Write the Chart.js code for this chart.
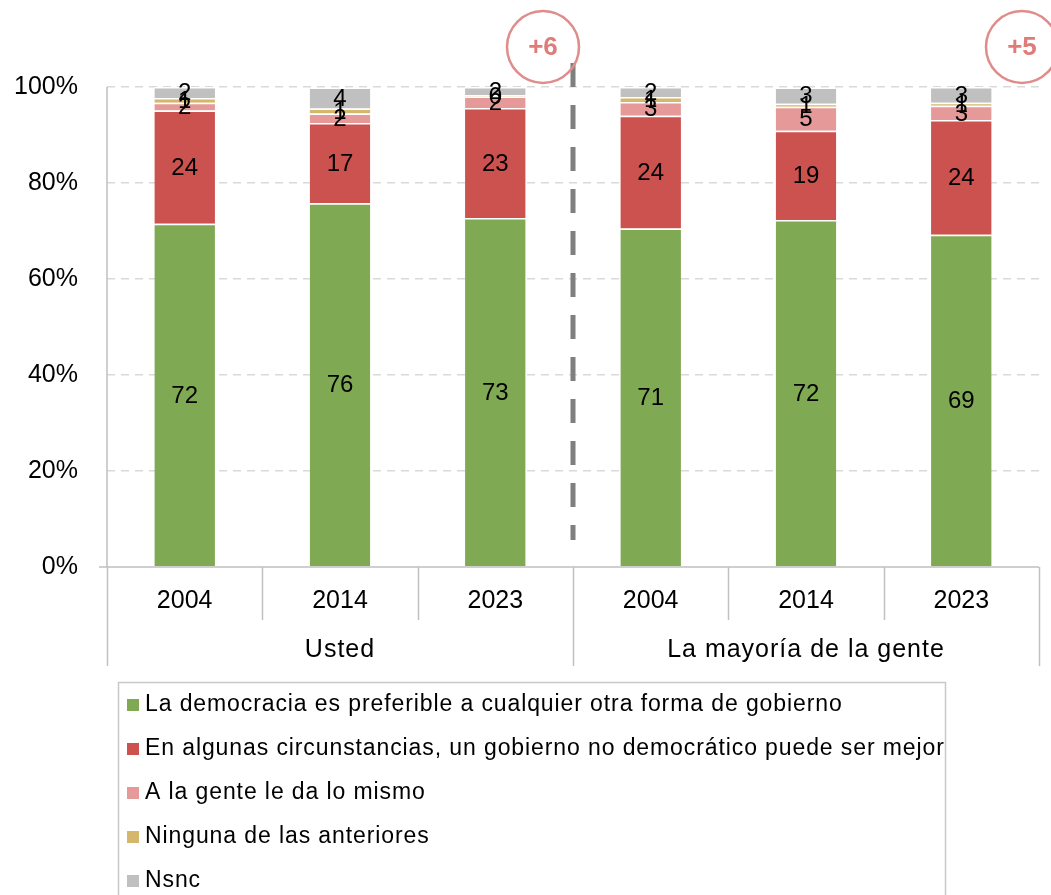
<!DOCTYPE html>
<html>
<head>
<meta charset="utf-8">
<style>
html,body{margin:0;padding:0;background:#fff;}
#wrap{width:1051px;height:895px;position:relative;}
</style>
<script src="https://cdn.jsdelivr.net/npm/chart.js@4/dist/chart.umd.min.js"></script>
</head>
<body>
<div id="wrap"><canvas id="c"></canvas></div>
<script>
// ---- data ----
const categories = ['2004', '2014', '2023', '2004', '2014', '2023'];
const groups = ['Usted', 'La mayoría de la gente'];
const groupSizes = [3, 3];
const seriesNames = [
  'La democracia es preferible a cualquier otra forma de gobierno',
  'En algunas circunstancias, un gobierno no democrático puede ser mejor',
  'A la gente le da lo mismo',
  'Ninguna de las anteriores',
  'Nsnc'
];
const democracia = [71.5, 75.8, 72.7, 70.5, 72.3, 69.2];
const noDemocratico = [23.6, 16.7, 22.9, 23.5, 18.6, 23.9];
const loMismo = [1.6, 2.0, 2.4, 2.9, 5.0, 3.0];
const ninguna = [1.0, 1.0, 0.3, 1.0, 0.6, 0.6];
const nsnc = [2.3, 4.4, 1.7, 2.1, 3.4, 3.3];
const changeLabels = ['+6', '+5'];
const yTicks = [0, 20, 40, 60, 80, 100];

const seriesValues = [democracia, noDemocratico, loMismo, ninguna, nsnc];
const colors = ['#80a954', '#cc524f', '#e59a99', '#d4b76a', '#c0c0c0'];
const FONT = '"Liberation Sans", Arial, Helvetica, sans-serif';

const extras = {
  id: 'extras',
  afterDatasetsDraw(chart) {
    const ctx = chart.ctx;
    ctx.save();
    ctx.fillStyle = '#000';
    ctx.font = '24px ' + FONT;
    ctx.textAlign = 'center';
    ctx.textBaseline = 'middle';
    chart.data.datasets.forEach((ds, i) => {
      const meta = chart.getDatasetMeta(i);
      meta.data.forEach((bar, j) => {
        const p = bar.getProps(['x', 'y', 'base'], true);
        ctx.fillText(String(Math.round(ds.data[j])), p.x, (p.y + p.base) / 2 + 1);
      });
    });
    ctx.restore();
  },
  afterDraw(chart) {
    const ctx = chart.ctx;
    const ca = chart.chartArea;
    const xs = chart.scales.x;
    const n = categories.length;
    const step = (xs.getPixelForValue(1) - xs.getPixelForValue(0));
    const edge = i => xs.getPixelForValue(i) - step / 2; // left boundary of category i
    ctx.save();
    // axis lines
    ctx.strokeStyle = '#c0c0c0';
    ctx.lineWidth = 1.5;
    ctx.beginPath();
    ctx.moveTo(ca.left - 8, ca.bottom); ctx.lineTo(ca.right, ca.bottom);
    ctx.moveTo(ca.left, ca.top); ctx.lineTo(ca.left, ca.bottom);
    ctx.stroke();
    // category separators
    let acc = 0;
    const groupEdges = [0];
    groupSizes.forEach(s => { acc += s; groupEdges.push(acc); });
    for (let i = 0; i <= n; i++) {
      const x = Math.round(edge(i)) + 0.5;
      const isGroup = groupEdges.includes(i);
      ctx.beginPath();
      ctx.moveTo(x, ca.bottom);
      ctx.lineTo(x, ca.bottom + (isGroup ? 99 : 53));
      ctx.stroke();
    }
    // year labels
    ctx.fillStyle = '#000';
    ctx.font = '25px ' + FONT;
    ctx.textAlign = 'center';
    ctx.textBaseline = 'middle';
    categories.forEach((c, i) => ctx.fillText(c, xs.getPixelForValue(i), ca.bottom + 34));
    // group labels
    ctx.letterSpacing = '1px';
    groups.forEach((g, k) => {
      const x = (edge(groupEdges[k]) + edge(groupEdges[k + 1])) / 2;
      ctx.fillText(g, x, ca.bottom + 83);
    });
    ctx.letterSpacing = '0px';
    // dashed divider
    const xd = edge(groupEdges[1]);
    ctx.strokeStyle = '#7f7f7f';
    ctx.lineWidth = 5;
    ctx.setLineDash([24, 18]);
    ctx.beginPath();
    ctx.moveTo(xd, ca.top - 24);
    ctx.lineTo(xd, ca.bottom - 27);
    ctx.stroke();
    ctx.setLineDash([]);
    // change circles
    const circ = [[edge(groupEdges[1]) - 30, 47], [ca.right - 17, 47]];
    circ.forEach((c, k) => {
      ctx.strokeStyle = '#e08c8a';
      ctx.lineWidth = 2.5;
      ctx.beginPath();
      ctx.arc(c[0], c[1], 36, 0, Math.PI * 2);
      ctx.stroke();
      ctx.fillStyle = '#df7b79';
      ctx.font = 'bold 26px ' + FONT;
      ctx.fillText(changeLabels[k], c[0], c[1] + 1);
    });
    // legend
    ctx.strokeStyle = '#c8c8c8';
    ctx.lineWidth = 1.5;
    ctx.strokeRect(118.5, 682.5, 827, 260);
    ctx.textAlign = 'left';
    ctx.font = '23px ' + FONT;
    ctx.letterSpacing = '0.9px';
    seriesNames.forEach((s, i) => {
      const y = 705 + i * 44;
      ctx.fillStyle = colors[i];
      ctx.fillRect(127, y - 6, 12, 12);
      ctx.fillStyle = '#000';
      ctx.fillText(s, 145, y);
    });
    ctx.letterSpacing = '0px';
    ctx.restore();
  }
};

new Chart(document.getElementById('c'), {
  type: 'bar',
  data: {
    labels: categories,
    datasets: seriesValues.map((v, i) => ({
      label: seriesNames[i],
      data: v,
      backgroundColor: colors[i],
      borderColor: '#ffffff',
      borderWidth: {top: 1.5, bottom: 0, left: 0, right: 0},
      borderSkipped: false,
      barPercentage: 0.39,
      categoryPercentage: 1.0
    }))
  },
  options: {
    responsive: true,
    maintainAspectRatio: false,
    animation: false,
    layout: {padding: {top: 87, bottom: 328, left: 0, right: 12}},
    plugins: {legend: {display: false}, tooltip: {enabled: false}},
    scales: {
      x: {stacked: true, display: false, offset: true},
      y: {
        stacked: true,
        min: 0, max: 100,
        afterFit: s => { s.width = 107; },
        afterBuildTicks: s => { s.ticks = yTicks.map(v => ({value: v})); },
        border: {display: false, dash: [8, 6]},
        grid: {
          drawTicks: false,
          lineWidth: 1.5,
          color: c => (c.tick && c.tick.value === 0) ? 'rgba(0,0,0,0)' : '#d9d9d9'
        },
        ticks: {
          padding: 29,
          color: '#000',
          font: {family: FONT, size: 25},
          callback: v => v + '%'
        }
      }
    }
  },
  plugins: [extras]
});
</script>
</body>
</html>
